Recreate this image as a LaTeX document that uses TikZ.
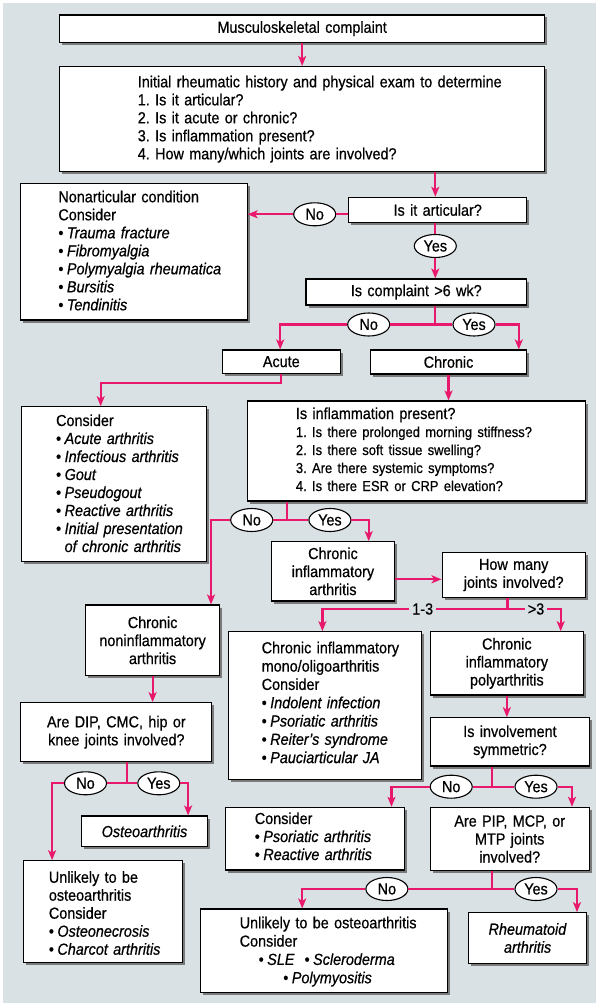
\documentclass[tikz,border=0pt]{standalone}
\usepackage{fontspec}
\setmainfont{Liberation Sans}[FakeStretch=0.9,FakeBold=0.6]
\usetikzlibrary{arrows.meta,shapes.geometric,shadows}

\definecolor{panel}{HTML}{DAE1E4}
\definecolor{flow}{HTML}{E8186D}
\definecolor{shade}{HTML}{7A7A7A}

\newcommand{\mainsize}{\fontsize{16}{18}\selectfont\frenchspacing}
\newcommand{\subsize}{\fontsize{14.4}{18}\selectfont}
\newcommand{\itm}[1]{\textbullet\hspace{3.5pt}\textit{#1}}
\newcommand{\itmgap}{\phantom{\textbullet}\hspace{3.5pt}}

% \flowbox[options]{name}{x0}{y0}{x1}{y1}{centred text}
\newcommand{\flowbox}[7][]{%
  \pgfmathsetmacro\fbW{#5-#3}%
  \pgfmathsetmacro\fbH{#6-#4}%
  \pgfmathsetmacro\fbT{#5-#3-6}%
  \node[box,#1,minimum width=\fbW pt,minimum height=\fbH pt,text width=\fbT pt]
    (#2) at ({(#3+#5)/2},{(#4+#6)/2}) {#7};}

\begin{document}
\begin{tikzpicture}[x=1pt,y=-1pt,
  plainbox/.style={draw=black,line width=1.1pt,fill=white,inner xsep=3pt,
    inner ysep=0pt,align=center,font=\mainsize},
  box/.style={plainbox,general shadow={fill=shade,shadow xshift=2.5pt,shadow yshift=-2.5pt}},
  txt/.style={inner sep=0pt,anchor=base west,align=left,text width=400pt,font=\mainsize},
  ell/.style={ellipse,draw=black,line width=1.1pt,fill=white,minimum width=42pt,
    minimum height=23pt,inner sep=0pt,font=\mainsize},
  lbl/.style={inner xsep=3pt,inner ysep=1pt,font=\mainsize},
  conn/.style={draw=flow,line width=2.2pt},
  arr/.style={conn,-{Stealth[length=10pt,width=8pt,inset=2.5pt]}}]

\useasboundingbox (0,0) rectangle (596,1003);
\fill[white] (0,0) rectangle (596,1003);
\fill[panel] (3,3) rectangle (596,1003);

% ---------- boxes ----------
\flowbox{b1}{59.6}{15}{544.7}{42.3}{Musculoskeletal complaint}
\flowbox{b2}{59.3}{66.5}{544.7}{171.7}{}
\node[txt] (b2t) at (137.6,87.3) {Initial rheumatic history and physical exam to determine\\
  1. Is it articular?\\2. Is it acute or chronic?\\3. Is inflammation present?\\
  4. How many/which joints are involved?};

\flowbox{art}{348.9}{197.3}{526.5}{222.7}{Is it articular?}

\flowbox{nonart}{20.9}{183.3}{247.1}{320}{}
\node[txt] (nonartt) at (58.2,202.3) {Nonarticular condition\\Consider\\
  \itm{Trauma fracture}\\\itm{Fibromyalgia}\\\itm{Polymyalgia rheumatica}\\
  \itm{Bursitis}\\\itm{Tendinitis}};

\flowbox{six}{306}{279}{526.5}{305}{Is complaint >6 wk?}
\flowbox{acute}{222.4}{350}{340.2}{373.3}{Acute}
\flowbox{chronic}{370.6}{350}{526.5}{374}{Chronic}

\flowbox{acons}{21.7}{406.7}{206.4}{561.7}{}
\node[txt] (aconst) at (55.9,426) {Consider\\\itm{Acute arthritis}\\
  \itm{Infectious arthritis}\\\itm{Gout}\\\itm{Pseudogout}\\\itm{Reactive arthritis}\\
  \itm{Initial presentation}\\\itmgap\textit{of chronic arthritis}};

\flowbox{infl}{247.1}{401}{585.3}{501}{}
\node[txt] (inflt) at (295.7,419) {Is inflammation present?\\
  {\subsize 1. Is there prolonged morning stiffness?}\\
  {\subsize 2. Is there soft tissue swelling?}\\
  {\subsize 3. Are there systemic symptoms?}\\
  {\subsize 4. Is there ESR or CRP elevation?}};

\flowbox{cia}{271.7}{541.7}{394.2}{601}{Chronic\\inflammatory\\arthritis}
\flowbox[plainbox]{howmany}{442.1}{552.3}{585.3}{597.7}{How many\\joints involved?}
\flowbox{cnia}{85.5}{605}{219.7}{675.7}{Chronic\\noninflammatory\\arthritis}

\flowbox{mono}{228.1}{631.7}{421.9}{779.3}{}
\node[txt,font=\fontsize{16}{18.3}\selectfont\frenchspacing] (monot) at (261.5,653.3)
  {Chronic inflammatory\\mono/oligoarthritis\\Consider\\\itm{Indolent infection}\\
  \itm{Psoriatic arthritis}\\\itm{Reiter's syndrome}\\\itm{Pauciarticular JA}};

\flowbox{poly}{430.2}{631.7}{583.5}{695}{Chronic\\inflammatory\\polyarthritis}
\flowbox{dip}{20.9}{702.7}{211.8}{761.7}{Are DIP, CMC, hip or\\knee joints involved?}
\flowbox{sym}{430.7}{717.7}{589.2}{766}{Is involvement\\symmetric?}
\flowbox{osteo}{81.8}{816}{207.2}{846.7}{\textit{Osteoarthritis}}

\flowbox{pcons}{225.4}{807.3}{404.8}{870}{}
\node[txt] (pconst) at (254.6,824) {Consider\\\itm{Psoriatic arthritis}\\\itm{Reactive arthritis}};

\flowbox{pip}{430.2}{807.3}{589.2}{870.7}{Are PIP, MCP, or\\MTP joints\\involved?}

\flowbox{unl1}{23.6}{860.7}{182.4}{962.7}{}
\node[txt] (unl1t) at (48.7,882.7) {Unlikely to be\\osteoarthritis\\Consider\\
  \itm{Osteonecrosis}\\\itm{Charcot arthritis}};

\flowbox{unl2}{200.7}{909}{447.8}{992.3}{}
\node[txt,font=\fontsize{16}{18.3}\selectfont\frenchspacing] (unl2t) at (239.5,928.3)
  {Unlikely to be osteoarthritis\\Consider\\
  \hspace*{19pt}\itm{SLE}\hspace{10pt}\itm{Scleroderma}\\
  \hspace*{43.6pt}\itm{Polymyositis}};

\flowbox{ra}{468.7}{912.7}{586.5}{963.3}{\textit{Rheumatoid}\\\textit{arthritis}}

% ---------- decision labels ----------
\node[ell] (noA)  at (314.7,214.3) {No};
\node[ell] (yesA) at (435.3,246)   {Yes};
\node[ell] (no6)  at (368.7,324.5) {No};
\node[ell] (yes6) at (474,324.5)   {Yes};
\node[ell] (noI)  at (251.7,520)   {No};
\node[ell] (yesI) at (329.9,520)   {Yes};
\node[ell] (noD)  at (85.5,783.3)  {No};
\node[ell] (yesD) at (158.8,783.3) {Yes};
\node[ell] (noS)  at (451.2,786.7) {No};
\node[ell] (yesS) at (536,786.7)   {Yes};
\node[ell] (noP)  at (386.9,889)   {No};
\node[ell] (yesP) at (536,889)     {Yes};
\node[lbl] (l13)  at (422.7,609)   {1-3};
\node[lbl] (g3)   at (536,609)     {>3};

% ---------- junctions and corners ----------
\coordinate (j6) at (435.3,324.5);
\coordinate (sixL) at (280.2,324.5);
\coordinate (sixR) at (518.8,324.5);
\coordinate (aA) at (100.7,383.3);
\coordinate (jI) at (287,520);
\coordinate (iL) at (211,520);
\coordinate (iR) at (368.7,520);
\coordinate (hmY) at (0,579.3);
\coordinate (jH) at (507.4,609);
\coordinate (hL) at (322.4,609);
\coordinate (hR) at (560.7,609);
\coordinate (jD) at (126.6,783.3);
\coordinate (dL) at (52.1,783.3);
\coordinate (dR) at (188.1,783.3);
\coordinate (jS) at (492.3,786.7);
\coordinate (sL) at (391.5,786.7);
\coordinate (sR) at (572,786.7);
\coordinate (jP) at (492.3,889);
\coordinate (pL) at (302.2,889);
\coordinate (pR) at (577,889);

% ---------- connectors ----------
\draw[arr] (b1.south) -- (b2.north -| b1.south);
\draw[arr] (b2.south -| yesA) -- (art.north -| yesA);
\draw[conn] (noA -| art.west) -- (noA);
\draw[arr] (noA) -- (noA -| nonart.east);
\draw[conn] (art.south -| yesA) -- (yesA);
\draw[arr] (yesA) -- (six.north -| yesA);

\draw[conn] (six.south -| j6) -- (j6);
\draw[arr] (j6) -- (no6) -- (sixL) -- (sixL |- acute.north);
\draw[arr] (j6) -- (yes6) -- (sixR) -- (sixR |- chronic.north);

\draw[arr] (acute.south) |- (aA) -- (aA |- acons.north);
\draw[arr] (chronic.south) -- (chronic.south |- infl.north);

\draw[conn] (infl.south -| jI) -- (jI);
\draw[arr] (jI) -- (noI) -- (iL) -- (iL |- cnia.north);
\draw[arr] (jI) -- (yesI) -- (iR) -- (iR |- cia.north);

\draw[arr] (cia.east |- hmY) -- (howmany.west |- hmY);
\draw[conn] (howmany.south -| jH) -- (jH);
\draw[arr] (jH) -- (l13) -- (hL) -- (hL |- mono.north);
\draw[arr] (jH) -- (g3) -- (hR) -- (hR |- poly.north);

\draw[arr] (cnia.south) -- (cnia.south |- dip.north);
\draw[conn] (dip.south -| jD) -- (jD);
\draw[arr] (jD) -- (noD) -- (dL) -- (dL |- unl1.north);
\draw[arr] (jD) -- (yesD) -- (dR) -- (dR |- osteo.north);

\draw[arr] (poly.south) -- (poly.south |- sym.north);
\draw[conn] (sym.south -| jS) -- (jS);
\draw[arr] (jS) -- (noS) -- (sL) -- (sL |- pcons.north);
\draw[arr] (jS) -- (yesS) -- (sR) -- (sR |- pip.north);

\draw[conn] (pip.south -| jP) -- (jP);
\draw[arr] (jP) -- (noP) -- (pL) -- (pL |- unl2.north);
\draw[arr] (jP) -- (yesP) -- (pR) -- (pR |- ra.north);

\end{tikzpicture}
\end{document}
